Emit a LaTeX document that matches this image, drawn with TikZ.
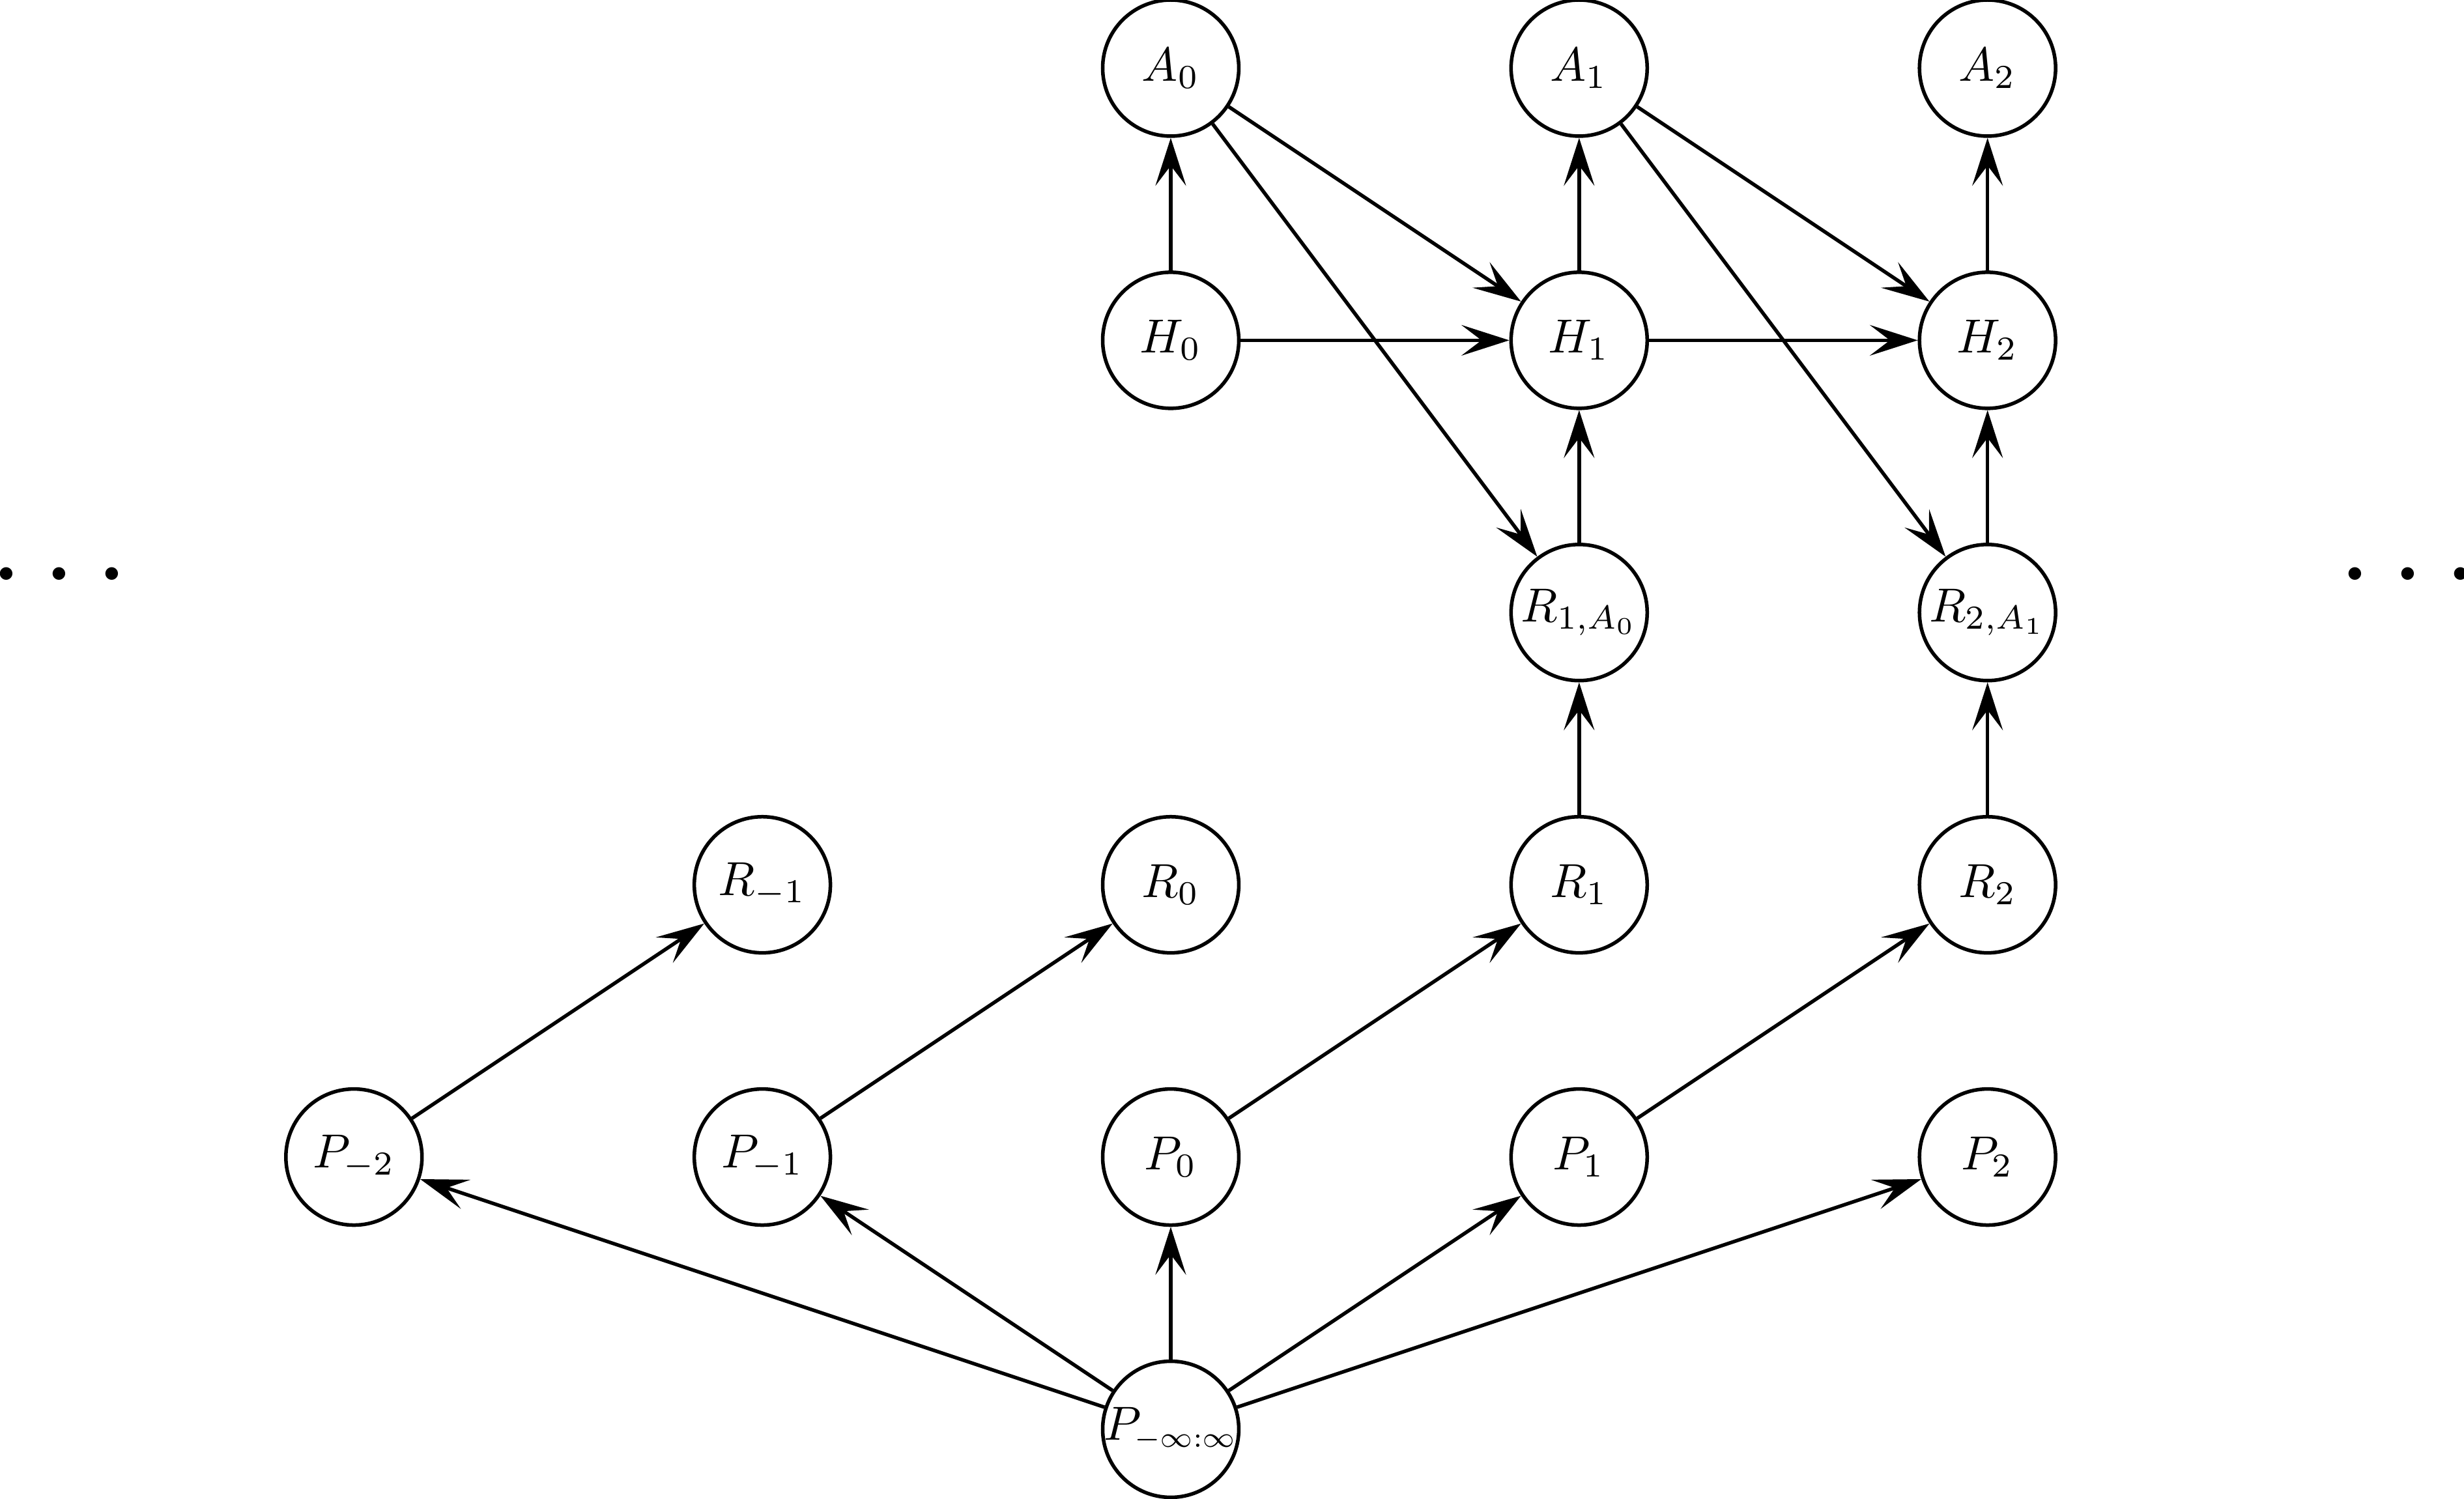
\documentclass[tikz,border=0pt]{standalone}
\usepackage{graphicx}
\usetikzlibrary{arrows.meta}
\begin{document}
\begin{tikzpicture}[
  var/.style={circle,draw,line width=0.75pt,minimum size=1cm,inner sep=0pt},
  edge/.style={line width=0.75pt,-{Stealth[length=10pt,width=6.4pt,inset=4.2pt]}},
  dotsnode/.style={inner sep=0pt,anchor=base,font=\fontsize{23}{28}\selectfont}
]
\useasboundingbox (-8.60,-0.508) rectangle (9.50,10.50);
% top rows
\node[var] (A0) at (0,10) {$A_0$};
\node[var] (A1) at (3,10) {$A_1$};
\node[var] (A2) at (6,10) {$A_2$};
\node[var] (H0) at (0,8) {$H_0$};
\node[var] (H1) at (3,8) {$H_1$};
\node[var] (H2) at (6,8) {$H_2$};
\node[var] (RA1) at (3,6) {$R_{1,A_0}$};
\node[var] (RA2) at (6,6) {$R_{2,A_1}$};
% R row
\node[var] (Rm1) at (-3,4) {$R_{-1}$};
\node[var] (R0) at (0,4) {$R_0$};
\node[var] (R1) at (3,4) {$R_1$};
\node[var] (R2) at (6,4) {$R_2$};
% P row
\node[var] (Pm2) at (-6,2) {$P_{-2}$};
\node[var] (Pm1) at (-3,2) {$P_{-1}$};
\node[var] (P0) at (0,2) {$P_0$};
\node[var] (P1) at (3,2) {$P_1$};
\node[var] (P2) at (6,2) {$P_2$};
\node[var] (Pinf) at (0,0) {\makebox[0pt]{$P_{\scalebox{0.86}{$\scriptstyle -\infty:\infty$}}$}};
% dots
\node[dotsnode] (dl) at (-8.163,6.065) {$\cdots$};
\node[dotsnode] (dr) at (9.09,6.065) {$\cdots$};
% edges
\draw[edge] (H0) -- (A0);
\draw[edge] (H1) -- (A1);
\draw[edge] (H2) -- (A2);
\draw[edge] (H0) -- (H1);
\draw[edge] (H1) -- (H2);
\draw[edge] (A0) -- (H1);
\draw[edge] (A0) -- (RA1);
\draw[edge] (A1) -- (H2);
\draw[edge] (A1) -- (RA2);
\draw[edge] (RA1) -- (H1);
\draw[edge] (RA2) -- (H2);
\draw[edge] (R1) -- (RA1);
\draw[edge] (R2) -- (RA2);
\draw[edge] (Pm2) -- (Rm1);
\draw[edge] (Pm1) -- (R0);
\draw[edge] (P0) -- (R1);
\draw[edge] (P1) -- (R2);
\draw[edge] (Pinf) -- (Pm2);
\draw[edge] (Pinf) -- (Pm1);
\draw[edge] (Pinf) -- (P0);
\draw[edge] (Pinf) -- (P1);
\draw[edge] (Pinf) -- (P2);
\end{tikzpicture}
\end{document}
